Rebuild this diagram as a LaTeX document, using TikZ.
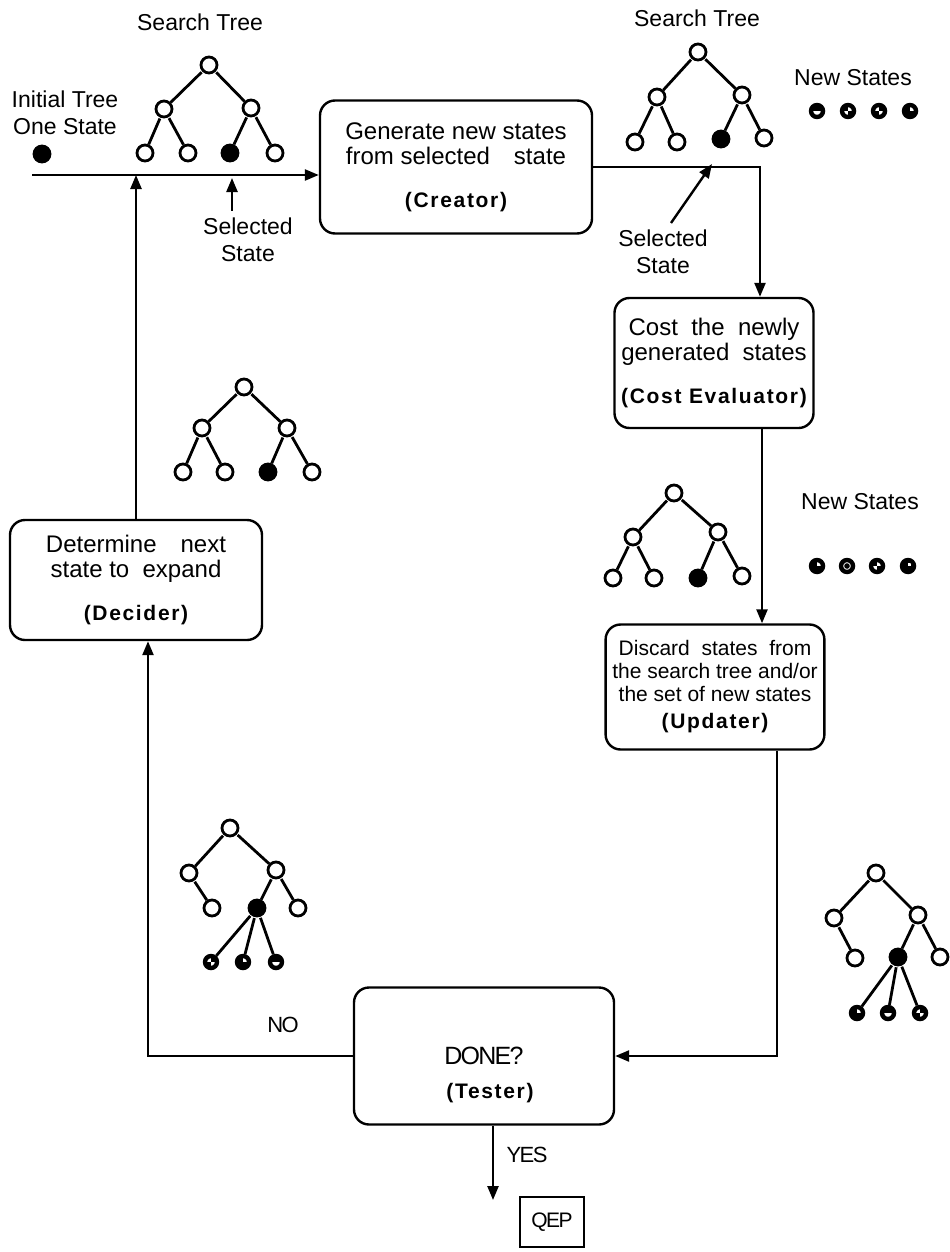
\documentclass[tikz,border=0pt]{standalone}
\usepackage{fontspec}
\setmainfont{Liberation Sans}
\newfontfamily\tagfont[LetterSpace=8.0]{Liberation Sans}
\newfontfamily\tightfont[LetterSpace=-7.0]{Liberation Sans}
\usetikzlibrary{arrows.meta}
\newcommand{\boxtag}[1]{{\tagfont\bfseries\fontsize{10.5}{12}\selectfont #1}}

\begin{document}
\begin{tikzpicture}[x=0.5pt, y=-0.5pt,
  box/.style={draw, line width=1.2pt, rounded corners=7.5pt, align=center, font=\fontsize{12}{12.5}\selectfont},
  st/.style={circle, draw, line width=1.4pt, minimum size=8pt, inner sep=0pt},
  sel/.style={st, fill=black},
  ns/.style={circle, draw, line width=2.2pt, minimum size=6pt, inner sep=0pt},
  nsa/.style={ns, path picture={\fill (path picture bounding box.north west) rectangle (path picture bounding box.east);}},
  nsb/.style={ns, path picture={\fill (path picture bounding box.center) rectangle (path picture bounding box.north east);
    \fill (path picture bounding box.center) rectangle (path picture bounding box.south west);}},
  nsc/.style={ns, path picture={\fill (path picture bounding box.center) rectangle (path picture bounding box.north west);
    \fill (path picture bounding box.center) rectangle (path picture bounding box.south east);}},
  nsd/.style={ns, path picture={\fill (path picture bounding box.west) rectangle (path picture bounding box.south east);
    \fill (path picture bounding box.north west) rectangle (path picture bounding box.center);}},
  nse/.style={ns, path picture={\fill (path picture bounding box.center) circle (1.4pt);}},
  nsf/.style={ns, fill=black, path picture={\fill[white] (path picture bounding box.center) rectangle ++(1.6pt,1.6pt);}},
  lbl/.style={align=center, font=\fontsize{11.5}{13.5}\selectfont},
  tight/.style={font=\tightfont\fontsize{11}{12}\selectfont},
  edge/.style={line width=1.4pt, shorten <=0.5pt},
  flow/.style={line width=1.2pt, -{Triangle[length=7pt,width=5.5pt]}}
]
  \useasboundingbox (0,0) rectangle (949,1252);

  % the five steps
  \node[box, minimum width=136pt, minimum height=66.5pt] (creator) at (456,167)
    {Generate new states\\from selected\quad state\\[9pt]\boxtag{(Creator)}};
  \node[box, minimum width=86pt, minimum height=65pt] (cost) at (714,363)
    {Cost\ \ the\ \ newly\\generated\ \ states\\[9pt]\boxtag{(Cost Evaluator)}};
  \node[box, minimum width=93pt, minimum height=62.5pt, font=\fontsize{10.5}{11.5}\selectfont] (updater) at (715,687)
    {Discard\ \ states\ \ from\\the search tree and/or\\the set of new states\\[2pt]\boxtag{(Updater)}};
  \node[box, minimum width=130pt, minimum height=68.5pt, font=\tightfont\fontsize{12.5}{13}\selectfont] (tester) at (484,1056) {DONE?};
  \node (testtag) at (490,1093) {\boxtag{(Tester)}};
  \node[box, minimum width=126pt, minimum height=60pt] (decider) at (136,580)
    {Determine\quad next\\state to\ \ expand\\[9pt]\boxtag{(Decider)}};
  \node[draw, line width=1.1pt, minimum width=32pt, minimum height=25pt, inner sep=0pt, font=\tightfont\fontsize{10.5}{11}\selectfont] (qep) at (552,1222) {QEP};

  % flow between the steps
  \coordinate (start) at (32,175);
  \coordinate (sel1) at (232,178);
  \coordinate (sel2) at (712,164);
  \coordinate (yes) at (493,1200);
  \draw[flow] (start) -- (start -| creator.west);
  \draw[flow] (creator.east) -| ([xshift=23pt]cost.north);
  \draw[flow] ([xshift=24pt]cost.south) -- ([xshift=24pt]cost.south |- updater.north);
  \draw[flow] ([xshift=31pt]updater.south) |- (tester.east);
  \draw[flow] (tester.west) -| ([xshift=6pt]decider.south);
  \draw[flow] (decider.north) -- (decider.north |- start);
  \draw[flow] (tester.south -| yes) -- (yes);

  % initial tree
  \node[lbl] (inittxt) at (65,113) {Initial Tree\\One State};
  \node[sel] (init) at (42,154) {};

  % search tree before the Creator
  \node[lbl] (tree1txt) at (200,22) {Search Tree};
  \node[st] (t1r) at (209,65) {};
  \node[st] (t1a) at (164,109) {};
  \node[st] (t1b) at (251,108) {};
  \node[st] (t1c) at (145,153) {};
  \node[st] (t1d) at (188,153) {};
  \node[sel] (t1e) at (230,153) {};
  \node[st] (t1f) at (275,153) {};
  \draw[edge] (t1r) -- (t1a);
  \draw[edge] (t1r) -- (t1b);
  \draw[edge] (t1a) -- (t1c);
  \draw[edge] (t1a) -- (t1d);
  \draw[edge] (t1b) -- (t1e);
  \draw[edge] (t1b) -- (t1f);
  \node[lbl] (sel1txt) at (248,240) {Selected\\State};
  \draw[flow] (sel1txt.north -| sel1) -- (sel1);

  % search tree after the Creator
  \node[lbl] (tree2txt) at (697,18) {Search Tree};
  \node[st] (t2r) at (698,52) {};
  \node[st] (t2a) at (657,97) {};
  \node[st] (t2b) at (742,95) {};
  \node[st] (t2c) at (635,142) {};
  \node[st] (t2d) at (677,142) {};
  \node[sel] (t2e) at (721,139) {};
  \node[st] (t2f) at (764,138) {};
  \draw[edge] (t2r) -- (t2a);
  \draw[edge] (t2r) -- (t2b);
  \draw[edge] (t2a) -- (t2c);
  \draw[edge] (t2a) -- (t2d);
  \draw[edge] (t2b) -- (t2e);
  \draw[edge] (t2b) -- (t2f);
  \node[lbl] (sel2txt) at (663,252) {Selected\\State};
  \draw[flow] ([xshift=4pt]sel2txt.north) -- (sel2);
  \node[lbl] (new1txt) at (853,78) {New States};
  \node[nsa] (n1a) at (817,111) {};
  \node[nsc] (n1b) at (848,111) {};
  \node[nsb] (n1c) at (879,111) {};
  \node[nsd] (n1d) at (910,111) {};

  % search tree after the Cost Evaluator
  \node[st] (t3r) at (674,493) {};
  \node[st] (t3a) at (633,537) {};
  \node[st] (t3b) at (718,532) {};
  \node[st] (t3c) at (613,578) {};
  \node[st] (t3d) at (654,578) {};
  \node[sel] (t3e) at (698,578) {};
  \node[st] (t3f) at (742,576) {};
  \draw[edge] (t3r) -- (t3a);
  \draw[edge] (t3r) -- (t3b);
  \draw[edge] (t3a) -- (t3c);
  \draw[edge] (t3a) -- (t3d);
  \draw[edge] (t3b) -- (t3e);
  \draw[edge] (t3b) -- (t3f);
  \node[lbl] (new2txt) at (860,502) {New States};
  \node[nsd] (n2a) at (817,566) {};
  \node[nse] (n2b) at (847,566) {};
  \node[nsc] (n2c) at (877,566) {};
  \node[nsf] (n2d) at (908,566) {};

  % search tree after the Updater
  \node[st] (t4r) at (876,873) {};
  \node[st] (t4a) at (834,918) {};
  \node[st] (t4b) at (918,915) {};
  \node[st] (t4c) at (855,958) {};
  \node[sel] (t4e) at (898,957) {};
  \node[st] (t4f) at (940,957) {};
  \node[nsd] (t4g) at (857,1013) {};
  \node[nsa] (t4h) at (888,1013) {};
  \node[nsb] (t4i) at (920,1013) {};
  \draw[edge] (t4r) -- (t4a);
  \draw[edge] (t4r) -- (t4b);
  \draw[edge] (t4a) -- (t4c);
  \draw[edge] (t4b) -- (t4e);
  \draw[edge] (t4b) -- (t4f);
  \draw[edge] (t4e) -- (t4g);
  \draw[edge] (t4e) -- (t4h);
  \draw[edge] (t4e) -- (t4i);

  % search tree handed back to the Decider
  \node[st] (t5r) at (230,828) {};
  \node[st] (t5a) at (189,873) {};
  \node[st] (t5b) at (276,870) {};
  \node[st] (t5c) at (212,908) {};
  \node[sel] (t5e) at (257,908) {};
  \node[st] (t5f) at (298,908) {};
  \node[nsb] (t5g) at (211,962) {};
  \node[nsd] (t5h) at (243,962) {};
  \node[nsa] (t5i) at (276,962) {};
  \draw[edge] (t5r) -- (t5a);
  \draw[edge] (t5r) -- (t5b);
  \draw[edge] (t5a) -- (t5c);
  \draw[edge] (t5b) -- (t5e);
  \draw[edge] (t5b) -- (t5f);
  \draw[edge] (t5e) -- (t5g);
  \draw[edge] (t5e) -- (t5h);
  \draw[edge] (t5e) -- (t5i);

  % search tree before the Creator, on the way back
  \node[st] (t6r) at (244,387) {};
  \node[st] (t6a) at (202,428) {};
  \node[st] (t6b) at (287,428) {};
  \node[st] (t6c) at (183,472) {};
  \node[st] (t6d) at (225,472) {};
  \node[sel] (t6e) at (268,472) {};
  \node[st] (t6f) at (312,472) {};
  \draw[edge] (t6r) -- (t6a);
  \draw[edge] (t6r) -- (t6b);
  \draw[edge] (t6a) -- (t6c);
  \draw[edge] (t6a) -- (t6d);
  \draw[edge] (t6b) -- (t6e);
  \draw[edge] (t6b) -- (t6f);

  \node[tight] (notxt) at (283,1025) {NO};
  \node[tight] (yestxt) at (527,1155) {YES};
\end{tikzpicture}
\end{document}
